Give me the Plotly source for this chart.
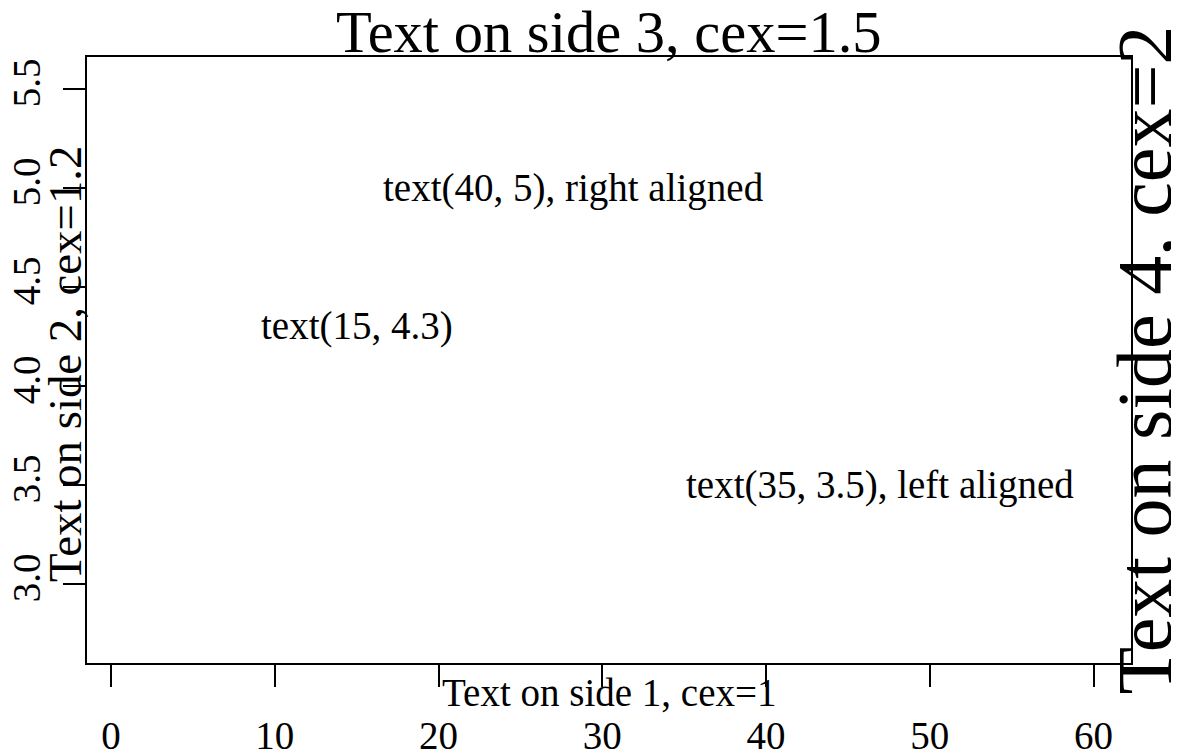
import plotly.graph_objects as go

# ---- data ----
x_ticks = [0, 10, 20, 30, 40, 50, 60]
y_ticks = [3.0, 3.5, 4.0, 4.5, 5.0, 5.5]
y_tick_labels = ["3.0", "3.5", "4.0", "4.5", "5.0", "5.5"]
x_range = [-1.47, 62.29]
y_range = [2.60, 5.66]

text_labels = ["text(40, 5), right aligned", "text(15, 4.3)", "text(35, 3.5), left aligned"]
text_x = [40, 15, 35]
text_y = [5.0, 4.3, 3.5]
text_align = ["right", "center", "left"]

side_texts = ["Text on side 1, cex=1", "Text on side 2, cex=1.2",
              "Text on side 3, cex=1.5", "Text on side 4, cex=2"]
side_cex = [1.0, 1.2, 1.5, 2.0]

FONT = "Liberation Serif, Times New Roman, serif"
BASE = 39

fig = go.Figure()
fig.add_trace(go.Scatter(x=[], y=[], mode="markers", showlegend=False))

for t, x, y, a in zip(text_labels, text_x, text_y, text_align):
    fig.add_annotation(x=x, y=y, xref="x", yref="y", text=t, showarrow=False,
                       xanchor=a, yanchor="middle",
                       font=dict(family=FONT, size=BASE, color="black"))

# side 1 (bottom)
fig.add_annotation(x=0.5, y=0, xref="paper", yref="paper", text=side_texts[0],
                   showarrow=False, xanchor="center", yanchor="top", yshift=-6,
                   font=dict(family=FONT, size=BASE * side_cex[0], color="black"))
# side 2 (left)
fig.add_annotation(x=0, y=0.5, xref="paper", yref="paper", text=side_texts[1],
                   showarrow=False, xanchor="right", yanchor="middle", textangle=-90, xshift=6,
                   yshift=-4,
                   font=dict(family=FONT, size=BASE * side_cex[1], color="black"))
# side 3 (top)
fig.add_annotation(x=0.5, y=1, xref="paper", yref="paper", text=side_texts[2],
                   showarrow=False, xanchor="center", yanchor="bottom", yshift=-10,
                   font=dict(family=FONT, size=BASE * side_cex[2], color="black"))
# side 4 (right)
fig.add_annotation(x=1, y=0.5, xref="paper", yref="paper", text=side_texts[3],
                   showarrow=False, xanchor="left", yanchor="middle", textangle=-90, xshift=-33,
                   font=dict(family=FONT, size=BASE * side_cex[3], color="black"))

# the page body adds an 8px offset, so the figure is 8px smaller than the window
fig.update_layout(
    width=1171, height=747,
    margin=dict(l=79, r=48, t=49, b=92, autoexpand=False),
    paper_bgcolor="white", plot_bgcolor="white",
    showlegend=False,
)
fig.update_xaxes(range=x_range, tickmode="array", tickvals=x_ticks,
                 ticktext=[str(v) for v in x_ticks],
                 showgrid=False, zeroline=False, showline=True, mirror=True,
                 linecolor="black", linewidth=2, ticks="outside", ticklen=22,
                 tickwidth=2, tickcolor="black", ticklabelstandoff=15,
                 tickfont=dict(family=FONT, size=BASE, color="black"))
fig.update_yaxes(range=y_range, tickmode="array", tickvals=y_ticks,
                 ticktext=y_tick_labels, tickangle=-90,
                 showgrid=False, zeroline=False, showline=True, mirror=True,
                 linecolor="black", linewidth=2, ticks="outside", ticklen=22,
                 tickwidth=2, tickcolor="black", ticklabelstandoff=7,
                 tickfont=dict(family=FONT, size=BASE, color="black"))

fig.write_html("out.html")
